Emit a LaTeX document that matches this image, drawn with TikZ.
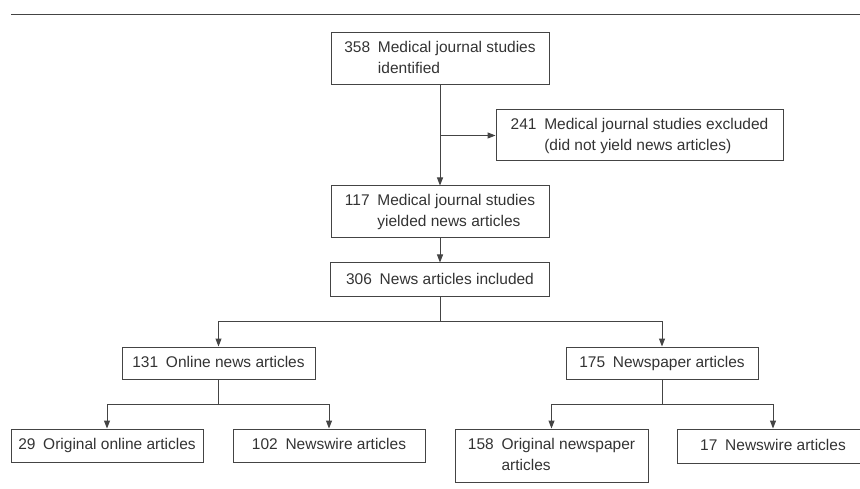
\documentclass[tikz,border=0pt]{standalone}
\usepackage{fontspec}
\setmainfont{Liberation Sans}
\usetikzlibrary{arrows.meta}
\definecolor{linegray}{HTML}{444444}
\definecolor{textgray}{HTML}{333333}
% number and text, second line under the text
\newcommand{\numtext}[2]{\begin{tabular}{@{}l@{\hspace{0.5em}}l@{}}#1 & #2\end{tabular}}
\begin{document}
\begin{tikzpicture}[x=1pt, y=-1pt,
    box/.style={draw=linegray, line width=1pt, text=textgray, inner sep=0pt,
        font=\fontsize{15.5}{21}\selectfont},
    arr/.style={draw=linegray, line width=1pt, -{Triangle[length=8pt, width=6pt]}},
    link/.style={draw=linegray, line width=1pt}]
    \useasboundingbox (0,0) rectangle (860,489);
    % Rule
    \draw[link] (11,15) -- (860,15);
    % Studies
    \node[box, minimum width=218pt, minimum height=52pt] (identified) at (440,59)
        {\numtext{358}{Medical journal studies\\ & identified}};
    \node[box, minimum width=287pt, minimum height=51pt] (excluded) at (639.5,135.5)
        {\numtext{241}{Medical journal studies excluded\\ & (did not yield news articles)}};
    \node[box, minimum width=218pt, minimum height=52pt] (yielded) at (440,212)
        {\numtext{117}{Medical journal studies\\ & yielded news articles}};
    \node[box, minimum width=219pt, minimum height=34pt] (included) at (440,280)
        {\numtext{306}{News articles included}};
    % Articles
    \node[box, minimum width=193pt, minimum height=32pt] (online) at (218.5,363)
        {\numtext{131}{Online news articles}};
    \node[box, minimum width=192pt, minimum height=32pt] (newspaper) at (662,363)
        {\numtext{175}{Newspaper articles}};
    \node[box, minimum width=192pt, minimum height=33pt] (origonline) at (107,445.5)
        {\numtext{29}{Original online articles}};
    \node[box, minimum width=192pt, minimum height=33pt] (wireonline) at (329,445.5)
        {\numtext{102}{Newswire articles}};
    \node[box, minimum width=193pt, minimum height=53pt] (origpaper) at (551.5,455.5)
        {\numtext{158}{Original newspaper\\ & articles}};
    \node[box, minimum width=192pt, minimum height=34pt] (wirepaper) at (773,446)
        {\numtext{17}{Newswire articles}};
    % Split points
    \coordinate (split1) at (440,321);
    \coordinate (split2) at (218.5,404);
    \coordinate (split3) at (662,404);
    % Connectors
    \draw[arr] (identified) -- (yielded);
    \draw[arr] (identified.south |- excluded.west) -- (excluded.west);
    \draw[arr] (yielded) -- (included);
    \draw[link] (included) -- (split1);
    \draw[arr] (split1) -| (online);
    \draw[arr] (split1) -| (newspaper);
    \draw[link] (online) -- (split2);
    \draw[arr] (split2) -| (origonline);
    \draw[arr] (split2) -| (wireonline);
    \draw[link] (newspaper) -- (split3);
    \draw[arr] (split3) -| (origpaper);
    \draw[arr] (split3) -| (wirepaper);
\end{tikzpicture}
\end{document}
